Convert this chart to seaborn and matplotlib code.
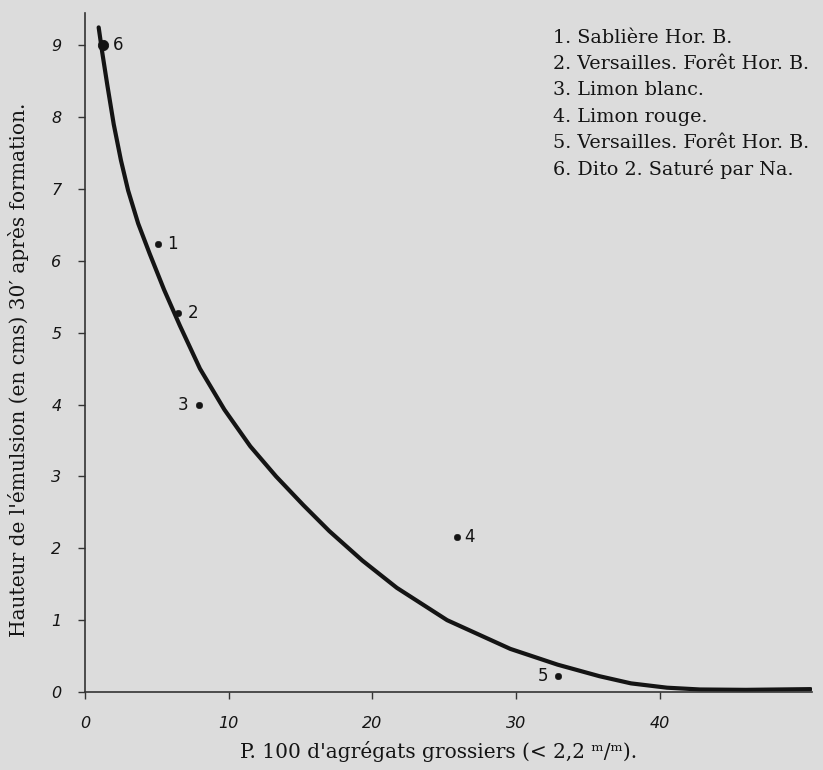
import matplotlib
matplotlib.use("Agg")
import matplotlib.pyplot as plt
import seaborn as sns
import pandas as pd

# curve
curve_x = [0.95, 1.2, 1.55, 2.0, 2.5, 3.0, 3.7, 4.5, 5.5, 6.6, 8.0, 9.7,
           11.5, 13.3, 15.2, 17.0, 19.3, 21.7, 25.2, 29.6, 32.9, 35.8, 38.0,
           40.5, 42.8, 46.0, 50.5]
curve_y = [9.25, 8.9, 8.45, 7.9, 7.4, 6.98, 6.52, 6.1, 5.6, 5.1, 4.5, 3.93,
           3.42, 3.0, 2.6, 2.24, 1.83, 1.45, 1.0, 0.6, 0.38, 0.22, 0.12,
           0.06, 0.035, 0.03, 0.04]

# soil samples
sample_no = ["1", "2", "3", "4", "5", "6"]
sample_x = [5.1, 6.5, 7.9, 25.9, 32.9, 1.25]
sample_y = [6.23, 5.28, 3.99, 2.16, 0.22, 9.0]

legend_lines = [
    "1. Sablière Hor. B.",
    "2. Versailles. Forêt Hor. B.",
    "3. Limon blanc.",
    "4. Limon rouge.",
    "5. Versailles. Forêt Hor. B.",
    "6. Dito 2. Saturé par Na.",
]

x_ticks = [0, 10, 20, 30, 40]
y_ticks = [0, 1, 2, 3, 4, 5, 6, 7, 8, 9]

paper = "#dcdcdc"
ink = "#141414"
serif = ["DejaVu Serif"]

sns.set_theme(style="ticks")
plt.rcParams["font.family"] = ["DejaVu Sans"]

fig = plt.figure(figsize=(8.23, 7.70), dpi=100, facecolor=paper)
ax = fig.add_axes([0.1033, 0.1013, 0.8834, 0.8818])
ax.set_facecolor(paper)

df_curve = pd.DataFrame({"x": curve_x, "y": curve_y})
df_pts = pd.DataFrame({"no": sample_no, "x": sample_x, "y": sample_y})

sns.lineplot(data=df_curve, x="x", y="y", sort=False, estimator=None,
             color=ink, linewidth=3.0, ax=ax)
sns.scatterplot(data=df_pts[df_pts["no"] != "6"], x="x", y="y", color=ink,
                s=22, edgecolor=ink, ax=ax, zorder=3)
sns.scatterplot(data=df_pts[df_pts["no"] == "6"], x="x", y="y", color=ink,
                s=55, edgecolor=ink, ax=ax, zorder=3)

# number next to each dot
offsets = {"1": (6, 0), "2": (7, 0), "3": (-7, 0), "4": (5, 0),
           "5": (-7, 0), "6": (7, 0)}
for no, px, py in zip(sample_no, sample_x, sample_y):
    dx, dy = offsets[no]
    ax.annotate(no, (px, py), xytext=(dx, dy), textcoords="offset points",
                ha="left" if dx > 0 else "right", va="center",
                fontsize=12, color=ink)

ax.set_xlim(0, 50.6)
ax.set_ylim(0, 9.45)
ax.set_xticks(x_ticks)
ax.set_yticks(y_ticks)
ax.set_xticklabels([str(t) for t in x_ticks], fontstyle="italic", fontsize=11.5)
ax.set_yticklabels([str(t) for t in y_ticks], fontstyle="italic", fontsize=11.5)
ax.tick_params(axis="x", length=5, width=1, color="#333333", pad=12, labelcolor=ink)
ax.tick_params(axis="y", length=5, width=1, color="#333333", pad=12, labelcolor=ink)
for side in ["top", "right"]:
    ax.spines[side].set_visible(False)
for side in ["left", "bottom"]:
    ax.spines[side].set_color("#333333")
    ax.spines[side].set_linewidth(1.2)

ax.set_xlabel("P. 100 d'agrégats grossiers (< 2,2 ᵐ/ᵐ).", family=serif,
              fontsize=14.5, color=ink)
ax.set_ylabel("Hauteur de l'émulsion (en cms) 30′ après formation.",
              family=serif, fontsize=14.5, color=ink)
ax.xaxis.set_label_coords(0.486, -0.088)
ax.yaxis.set_label_coords(-0.092, 0.474)
ax.xaxis.label.set_va("center")
ax.yaxis.label.set_va("center")

for i, line in enumerate(legend_lines):
    fig.text(553 / 823, 1 - (38 + i * 26.2) / 770, line, family=serif,
             fontsize=13.8, color=ink, ha="left", va="center")

fig.savefig("out.png", dpi=100, facecolor=paper)
